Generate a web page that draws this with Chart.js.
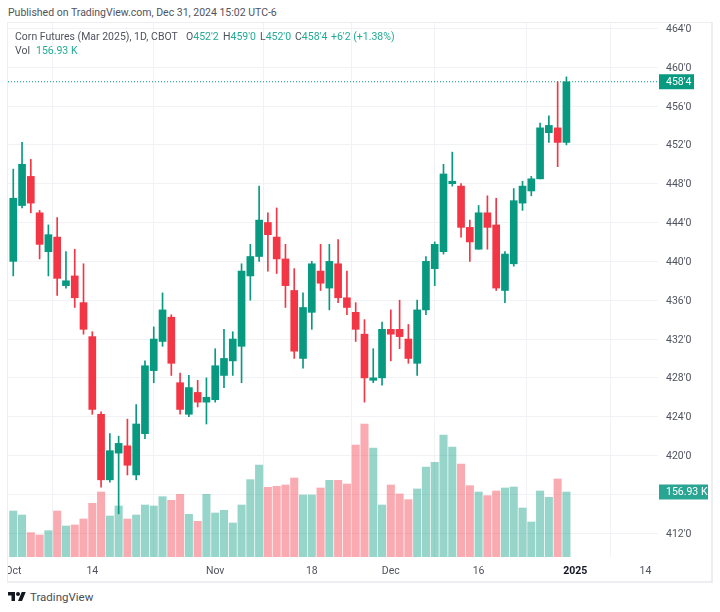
<!DOCTYPE html>
<html>
<head>
<meta charset="utf-8">
<title>Corn Futures (Mar 2025)</title>
<script src="https://cdn.jsdelivr.net/npm/chart.js@4"></script>
<style>
html,body{margin:0;padding:0;background:#fff;width:720px;height:612px;overflow:hidden}
body{font-family:Roboto,sans-serif;position:relative}
.t{position:absolute;white-space:nowrap;font-size:10.5px;line-height:14px;color:#50535e}
.up{color:#22ab94}
#frame{position:absolute;left:7px;top:22px;width:703px;height:558px;border:1px solid #eceef2;border-width:1px 2px 2px 1px}
#chart{position:absolute;left:8px;top:23px}
</style>
</head>
<body>
<div class="t" style="left:8px;top:6px">Published on TradingView.com, Dec 31, 2024 15:02 UTC-6</div>
<div id="frame"></div>
<canvas id="chart" width="703" height="558"></canvas>
<div class="t" style="left:15px;top:30px">Corn Futures (Mar 2025), 1D, CBOT</div>
<div class="t" style="left:186px;top:30px">O<span class="up">452'2</span></div>
<div class="t" style="left:223px;top:30px">H<span class="up">459'0</span></div>
<div class="t" style="left:260px;top:30px">L<span class="up">452'0</span></div>
<div class="t" style="left:295px;top:30px">C<span class="up">458'4</span></div>
<div class="t up" style="left:331px;top:30px">+6'2 (+1.38%)</div>
<div class="t" style="left:15px;top:44px">Vol</div>
<div class="t up" style="left:36px;top:44px">156.93 K</div>
<svg style="position:absolute;left:8px;top:591px" width="18" height="11" viewBox="0 4 36 18"><path fill="#131722" d="M14 22H7V11H0V4h14v18zM28 22h-8l7.5-18h8L28 22z"/><circle fill="#131722" cx="20" cy="8" r="4"/></svg>
<div class="t" style="left:30px;top:589px;font-size:11.5px;line-height:16px;color:#4a4d55">TradingView</div>
<script>
const UP='#089981', DOWN='#f23645', UP_VOL='rgba(8,153,129,0.42)', DOWN_VOL='rgba(242,54,69,0.42)';
// prices are in cents, 452'2 = 452.25
const opens=[440,445.75,448.75,445,441,442.5,437.5,438.5,435.75,432.25,424.25,417.5,420.25,421,418,422.25,428.75,431.75,434.25,427.5,424.25,426.5,425.5,425.75,428.25,429.75,431.25,438.5,440.5,444,442.5,440.25,437,430,434.75,439,437.25,439.75,436.25,434.75,432.5,427.75,428,433,433,432,429.5,435,439.25,441,448,447.75,443.5,441.25,445,443.75,437,439.75,446,447.25,448.5,453.25,453.75,452.25];
const highs=[449.5,452.25,450.5,445.25,443.75,444.5,441,441.25,439.75,432.75,424.5,422.25,422,423.75,425.25,429.75,433.25,436.75,434.5,428.5,428.25,427.75,428,431,433,432.75,439.75,441.75,447.75,445,445.5,441.75,439.25,436.75,440,441.75,441.75,442.25,439,435.75,434,431,433.75,435,436,433.5,436,440.5,442,450,451.25,448,444.25,445.75,446.75,446.5,441,447.5,448.25,448.75,454.25,455,458.5,459];
const lows=[438.5,445.5,445,440.25,438.5,436.5,437.25,435.25,432.5,424.25,416.75,417.25,414,418,417.5,421.75,427.5,431.25,428.25,424.25,424,425,423.25,425.5,427,428.25,427.5,436,440,439,438.75,435.25,430,429,433,437,435,435.75,434.5,431.75,425.5,427.5,427.25,429.75,431,429.5,428.25,434.5,437.5,440.75,447.75,442.5,440,441.25,441.25,437,435.75,439.5,445.25,446.75,448.5,452.25,449.75,452];
const closes=[446.5,450,446,441.75,442.75,438.25,438,436.25,433,424.75,417.5,420.5,421.25,419,423.25,429.25,432,435,429.5,424.75,427,425.5,426,429.25,430,432,439,440.5,444.25,442.75,440.25,437.5,430.75,435.25,439.75,437.75,440,436.25,435.25,433,428,428,433,432.5,432.25,430,435,440,441.75,449,448.25,443.5,442,445,443.5,437.25,440.75,446.25,447.75,448.5,453.75,454,452.25,458.5];
const volumes=[111,101.4,58.7,53.1,63.6,111,74.8,77.3,91.7,129.6,156.9,99,123.1,91.7,101.4,125.5,123.1,145.6,136.8,151.3,103,86.1,151.3,106.2,112.7,82.1,125.5,186.7,222.1,168.2,170.6,173.8,190.7,149.7,149.7,166.6,185.1,185.1,176.2,270.4,321.1,263.1,125.5,173.8,152.1,138.4,164.2,217.3,228.5,294.5,265.6,224.5,172.2,156.9,148.1,159.3,166.6,169,118.3,84.5,159.3,144,188.3,156.93];
// x positions count trading days from Oct 1, projected past the last bar
const dateTicks=[0,9,23,34,43,53,64,72];
const dateLabels=['Oct','14','Nov','18','Dec','16','2025','14'];
const priceTicks=[464,460,456,452,448,444,440,436,432,428,424,420,416,412];
const hiddenPriceTicks=[416]; // covered by the volume badge
const lastClose=closes[closes.length-1], lastVolume=volumes[volumes.length-1];
const lastPriceLabel="458'4", lastVolumeLabel='156.93 K';

const isUp=i=>closes[i]>=opens[i];
const candleColors=closes.map((c,i)=>isUp(i)?UP:DOWN);
const volumeColors=closes.map((c,i)=>isUp(i)?UP_VOL:DOWN_VOL);

const badges={
  id:'badges',
  afterDraw(chart){
    const ctx=chart.ctx, left=chart.chartArea.right+1;
    function badge(y,w,color,text){
      ctx.fillStyle=color; ctx.fillRect(left,y-7.5,w,15);
      ctx.fillStyle='#fff'; ctx.font='10.5px Roboto'; ctx.textAlign='left'; ctx.textBaseline='middle';
      ctx.fillText(text,left+7,y+0.5);
    }
    badge(chart.scales.y.getPixelForValue(lastClose),35,UP,lastPriceLabel);
    badge(chart.scales.v.getPixelForValue(lastVolume),49,'#2aa594',lastVolumeLabel);
  }
};

new Chart(document.getElementById('chart'),{
  data:{datasets:[
    {type:'line',order:0,data:[{x:-0.6,y:lastClose},{x:73.43,y:lastClose}],borderColor:UP,borderWidth:1,borderDash:[1,2],pointRadius:0,yAxisID:'y'},
    {type:'bar',order:1,grouped:false,barThickness:7,yAxisID:'y',backgroundColor:candleColors,
      data:closes.map((c,i)=>({x:i,y:[Math.min(opens[i],c),Math.max(opens[i],c)]}))},
    {type:'bar',order:2,grouped:false,barThickness:1,yAxisID:'y',backgroundColor:candleColors,
      data:highs.map((h,i)=>({x:i,y:[lows[i],h]}))},
    {type:'bar',order:3,grouped:false,barThickness:7.4,yAxisID:'v',backgroundColor:volumeColors,
      data:volumes.map((v,i)=>({x:i,y:v}))}
  ]},
  options:{
    responsive:false,animation:false,events:[],
    layout:{padding:0},
    plugins:{legend:{display:false},tooltip:{enabled:false},title:{display:false}},
    scales:{
      x:{type:'linear',min:-0.6,max:73.43,offset:false,
        afterBuildTicks(s){s.ticks=dateTicks.map(v=>({value:v}))},
        afterFit(s){s.height=24;s.paddingLeft=0;s.paddingRight=0},
        grid:{color:'#f1f2f5',drawTicks:false},border:{display:false},
        ticks:{autoSkip:false,maxRotation:0,padding:8,color:c=>c.tick&&c.tick.value===64?'#131722':'#50535e',
          font:c=>({family:'Roboto',size:10.5,weight:c.tick&&c.tick.value===64?'bold':'normal'}),
          callback:v=>dateLabels[dateTicks.indexOf(v)]}
      },
      y:{position:'right',min:409.55,max:464.55,
        afterBuildTicks(s){s.ticks=priceTicks.map(v=>({value:v}))},
        afterFit(s){s.width=53;s.paddingTop=0;s.paddingBottom=0},
        grid:{color:'#f1f2f5',drawTicks:false},border:{display:false},
        ticks:{autoSkip:false,padding:8,labelOffset:1,color:'#50535e',font:{family:'Roboto',size:10.5},
          callback:v=>hiddenPriceTicks.includes(v)?'':v+"'0"}
      },
      v:{display:false,min:0,max:1289}
    }
  },
  plugins:[badges]
});
</script>
</body>
</html>
